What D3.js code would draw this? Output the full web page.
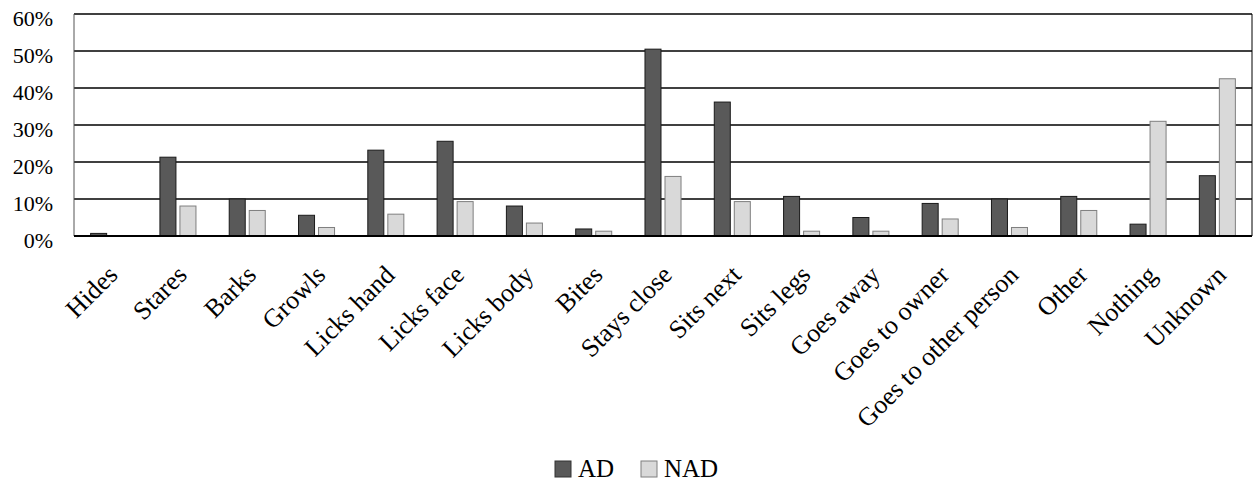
<!DOCTYPE html>
<html>
<head>
<meta charset="utf-8">
<script src="https://cdn.jsdelivr.net/npm/d3@7"></script>
<style>
  html, body { margin: 0; padding: 0; background: #fff; }
  svg { display: block; }
  text { font-family: "Liberation Serif", "Times New Roman", serif; fill: #000; }
</style>
</head>
<body>
<svg id="chart" width="1254" height="485"></svg>
<script>
const categories = ["Hides","Stares","Barks","Growls","Licks hand","Licks face","Licks body","Bites","Stays close","Sits next","Sits legs","Goes away","Goes to owner","Goes to other person","Other","Nothing","Unknown"];
const seriesNames = ["AD","NAD"];
const adValues  = [0.7, 21.3, 10.0, 5.6, 23.2, 25.6, 8.1, 1.9, 50.5, 36.2, 10.7, 5.0, 8.8, 10.0, 10.7, 3.2, 16.3];
const nadValues = [0.0, 8.1, 6.9, 2.3, 5.9, 9.3, 3.5, 1.3, 16.1, 9.3, 1.3, 1.3, 4.6, 2.3, 6.9, 31.0, 42.5];
const yTicks = [0, 10, 20, 30, 40, 50, 60];
const seriesColors = {AD: "#595959", NAD: "#d9d9d9"};
const seriesStrokes = {AD: "#1a1a1a", NAD: "#7f7f7f"};

const svg = d3.select("#chart");
const pL = 74, pR = 1252, pT = 14, pB = 236;

const x0 = d3.scaleBand().domain(categories).range([pL, pR]);
const bw = x0.bandwidth();
const x1 = d3.scaleBand().domain(seriesNames).range([bw * 0.24, bw * 0.76]).paddingInner(0.2);
const y = d3.scaleLinear().domain([0, 60]).range([pB, pT]);

// gridlines
svg.append("g").selectAll("line").data(yTicks.filter(t => t > 0)).join("line")
  .attr("x1", pL).attr("x2", pR)
  .attr("y1", d => y(d)).attr("y2", d => y(d))
  .attr("stroke", "#000").attr("stroke-width", 1.4);

// side borders
svg.append("line").attr("x1", pL).attr("x2", pL).attr("y1", pT).attr("y2", pB)
  .attr("stroke", "#555").attr("stroke-width", 1);
svg.append("line").attr("x1", pR).attr("x2", pR).attr("y1", pT).attr("y2", pB)
  .attr("stroke", "#000").attr("stroke-width", 1);

// y axis labels
const yAxis = d3.axisLeft(y).tickValues(yTicks).tickFormat(d => d + "%").tickSize(0).tickPadding(21);
const ya = svg.append("g").attr("transform", `translate(${pL},0)`).call(yAxis);
ya.select(".domain").remove();
ya.selectAll("text").attr("font-family", "Liberation Serif, serif").attr("font-size", 22).attr("dy", "0.5em").attr("fill", "#000");

// bars
const data = categories.map((c, i) => ({cat: c, vals: [{s: "AD", v: adValues[i]}, {s: "NAD", v: nadValues[i]}]}));
const groups = svg.append("g").selectAll("g").data(data).join("g")
  .attr("transform", d => `translate(${x0(d.cat)},0)`);
groups.selectAll("rect").data(d => d.vals.filter(e => e.v > 0)).join("rect")
  .attr("x", d => x1(d.s)).attr("width", x1.bandwidth())
  .attr("y", d => y(d.v)).attr("height", d => pB - y(d.v))
  .attr("fill", d => seriesColors[d.s]).attr("stroke", d => seriesStrokes[d.s]).attr("stroke-width", 1);

// x axis line
svg.append("line").attr("x1", pL).attr("x2", pR).attr("y1", pB).attr("y2", pB)
  .attr("stroke", "#000").attr("stroke-width", 2);

// x labels
svg.append("g").selectAll("text").data(categories).join("text")
  .attr("transform", d => `translate(${x0(d) + bw / 2 + 4},270) rotate(-45)`)
  .attr("text-anchor", "end").attr("dy", "0.35em")
  .attr("font-size", 26).text(d => d);

// legend
const legend = svg.append("g");
const legendItems = [{s: "AD", x: 555}, {s: "NAD", x: 641}];
legendItems.forEach(it => {
  legend.append("rect").attr("x", it.x).attr("y", 461).attr("width", 16).attr("height", 16)
    .attr("fill", seriesColors[it.s]).attr("stroke", it.s === "AD" ? "#333" : "#7f7f7f").attr("stroke-width", 1);
  legend.append("text").attr("x", it.x + 23).attr("y", 477).attr("font-size", 25).text(it.s);
});
</script>
</body>
</html>
